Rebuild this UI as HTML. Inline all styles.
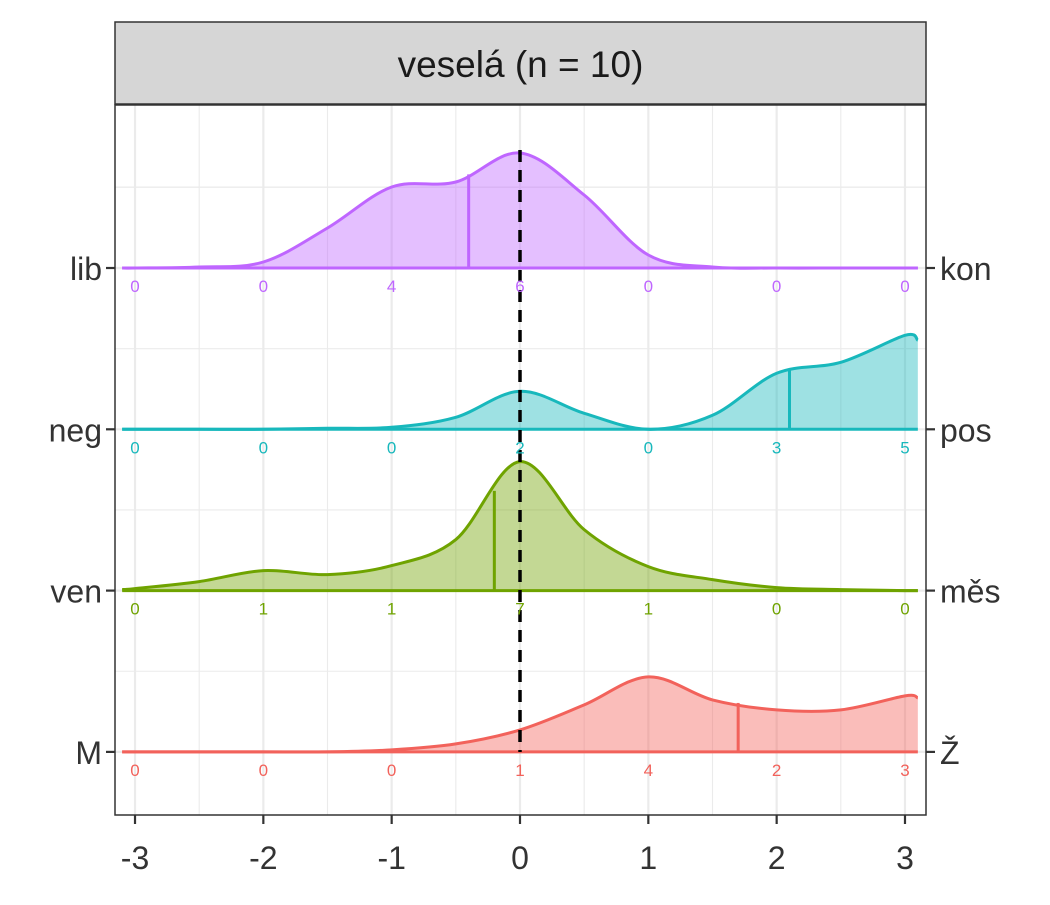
<!DOCTYPE html>
<html><head><meta charset="utf-8">
<style>
body{margin:0;background:#fff;}
svg text{font-family:"Liberation Sans",sans-serif;}
</style></head>
<body>
<svg id="chart" width="1050" height="900" viewBox="0 0 1050 900">
<rect x="0" y="0" width="1050" height="900" fill="#fff"/>
<g id="grid"></g>
<g id="ridges"></g>
<g id="axes"></g>
</svg>
<script>
const categoriesLeft = ["lib","neg","ven","M"];
const categoriesRight = ["kon","pos","měs","Ž"];
const colors = ["#BF66FF","#18B8BC","#6FA300","#F2625B"];
const xGrid = [-3.1,-3,-2.5,-2,-1.5,-1,-0.5,0,0.5,1,1.5,2,2.5,3,3.1];
const densLib = [0,0,1,6,40,81,86,115,73,13,1,0,0,0,0];
const densNeg = [0,0,0,0,1,2,12,38,16,0,14,56,67,94,89];
const densVen = [1,2,9,20,16,25,51,129,61,24,11,3,1,0,0];
const densM   = [0,0,0,0,0,2,8,22,47,75,52,42,42,56,54];
const medians = [-0.4,2.1,-0.2,1.7];
const countsLib = [0,0,4,6,0,0,0];
const countsNeg = [0,0,0,2,0,3,5];
const countsVen = [0,1,1,7,1,0,0];
const countsM   = [0,0,0,1,4,2,3];
const xTicks = [-3,-2,-1,0,1,2,3];

const dens=[densLib,densNeg,densVen,densM];
const counts=[countsLib,countsNeg,countsVen,countsM];
const NS="http://www.w3.org/2000/svg";
const X0=115,X1=926,Y0=105,Y1=815;
const xs=v=>520+v*128.33;
const baseY=i=>268+i*161.3;
const hs=d=>d;
function mk(tag,attrs,parent){const e=document.createElementNS(NS,tag);for(const k in attrs)e.setAttribute(k,attrs[k]);parent.appendChild(e);return e;}
const grid=document.getElementById('grid'),ridges=document.getElementById('ridges'),axes=document.getElementById('axes');

for(let v=-3;v<=3;v+=0.5){
  const l=mk('line',{x1:xs(v),x2:xs(v),y1:Y0,y2:Y1,stroke:'#EBEBEB','stroke-width':Number.isInteger(v)?2.2:1.1},grid);
  
  
}
for(let i=-0.5;i<=3.5;i+=0.5){
  const y=baseY(i);
  if(y<Y0||y>Y1) continue;
  const l=mk('line',{x1:X0,x2:X1,y1:y,y2:y,stroke:'#EBEBEB','stroke-width':Number.isInteger(i)?2.2:1.1},grid);
  
  
}
mk('line',{x1:X0,x2:X1,y1:187,y2:187,stroke:'#EBEBEB','stroke-width':1.1},grid);

function pathFor(d,i){
  const pts=xGrid.map((v,k)=>[xs(v),baseY(i)-hs(d[k])]);
  let p='M'+pts[0][0]+','+pts[0][1];
  for(let k=0;k<pts.length-1;k++){
    const p0=pts[Math.max(0,k-1)],p1=pts[k],p2=pts[k+1],p3=pts[Math.min(pts.length-1,k+2)];
    const c1=[p1[0]+(p2[0]-p0[0])/6,p1[1]+(p2[1]-p0[1])/6];
    const c2=[p2[0]-(p3[0]-p1[0])/6,p2[1]-(p3[1]-p1[1])/6];
    p+=` C${c1[0]},${c1[1]} ${c2[0]},${c2[1]} ${p2[0]},${p2[1]}`;
  }
  return {p,pts};
}
function interp(d,v){
  for(let k=0;k<xGrid.length-1;k++){if(v>=xGrid[k]&&v<=xGrid[k+1]){const t=(v-xGrid[k])/(xGrid[k+1]-xGrid[k]);return d[k]+(d[k+1]-d[k])*t;}}
  return 0;
}
for(let i=0;i<4;i++){
  const {p,pts}=pathFor(dens[i],i);
  const by=baseY(i);
  const fill=mk('path',{d:p+` L${pts[pts.length-1][0]},${by} L${pts[0][0]},${by} Z`,fill:colors[i],'fill-opacity':0.42,stroke:'none'},ridges);
  
  
  const base=mk('line',{x1:pts[0][0],x2:pts[pts.length-1][0],y1:by,y2:by,stroke:colors[i],'stroke-width':3},ridges);
  
  
  const line=mk('path',{d:p,fill:'none',stroke:colors[i],'stroke-width':3},ridges);
  
  
  const mx=xs(medians[i]);
  const med=mk('line',{x1:mx,x2:mx,y1:by,y2:by-hs(interp(dens[i],medians[i]))*1.02,stroke:colors[i],'stroke-width':3},ridges);
  
  
}
const z=mk('line',{x1:xs(0),x2:xs(0),y1:150,y2:752,stroke:'#000','stroke-width':3.5,'stroke-dasharray':'12,8'},ridges);


for(let i=0;i<4;i++){
  const by=baseY(i);
  counts[i].forEach((c,k)=>{
    const t=mk('text',{x:xs(xTicks[k]),y:by+24,'text-anchor':'middle','font-size':17,fill:colors[i]},ridges);
    t.textContent=c;
    
    
  });
}

const pb=mk('rect',{x:X0,y:Y0,width:X1-X0,height:Y1-Y0,fill:'none',stroke:'#333','stroke-width':1.5},axes);


const st=mk('rect',{x:X0,y:22,width:X1-X0,height:82,fill:'#D6D6D6',stroke:'#333','stroke-width':1.5},axes);


const stt=mk('text',{x:(X0+X1)/2,y:77,'text-anchor':'middle','font-size':37,fill:'#1A1A1A'},axes);
stt.textContent='veselá (n = 10)';


for(let i=0;i<4;i++){
  const y=baseY(i);
  mk('line',{x1:X0-9,x2:X0,y1:y,y2:y,stroke:'#333','stroke-width':2.2},axes);
  mk('line',{x1:X1,x2:X1+9,y1:y,y2:y,stroke:'#333','stroke-width':2.2},axes);
  const l=mk('text',{x:X0-13,y:y+12,'text-anchor':'end','font-size':32,fill:'#333'},axes);
  l.textContent=categoriesLeft[i];
  
  
  const r=mk('text',{x:X1+14,y:y+12,'text-anchor':'start','font-size':32,fill:'#333'},axes);
  r.textContent=categoriesRight[i];
  
  
}
xTicks.forEach(v=>{
  mk('line',{x1:xs(v),x2:xs(v),y1:Y1,y2:Y1+9,stroke:'#333','stroke-width':2.2},axes);
  const t=mk('text',{x:xs(v),y:869,'text-anchor':'middle','font-size':32,fill:'#333'},axes);
  t.textContent=v;
  
  
});
</script>
</body></html>
